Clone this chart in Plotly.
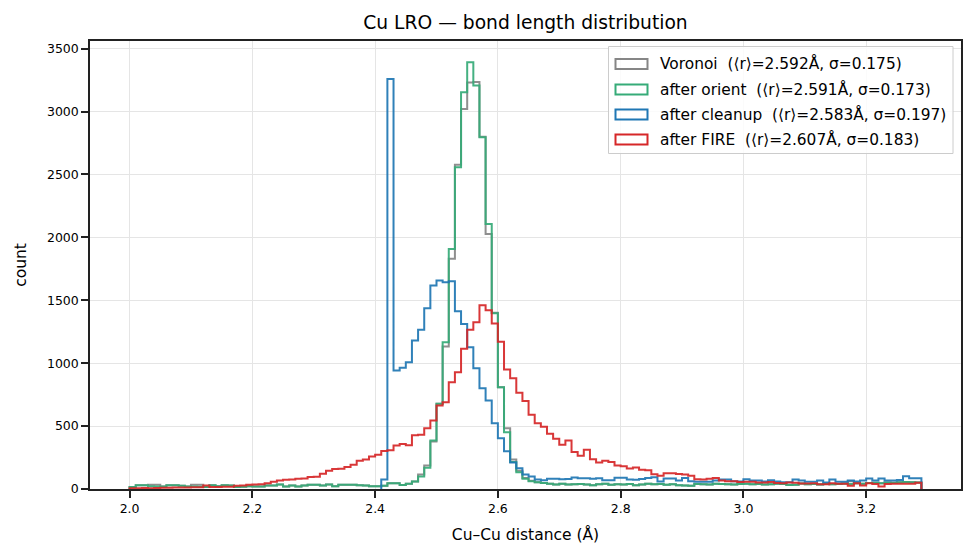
import numpy as np
import plotly.graph_objects as go

# ---------------- data (counts per 0.01 Å bin, 2.00 .. 3.29 Å) ----------------
bin_start = 2.0
bin_width = 0.01
n_bins = 129

voronoi = [15, 30, 30, 33, 33, 20, 30, 30, 25, 20,
           33, 33, 15, 30, 22, 30, 28, 15, 18, 22,
           20, 20, 28, 28, 36, 20, 28, 20, 28, 33,
           33, 28, 36, 22, 33, 33, 33, 30, 28, 22,
           22, 25, 45, 46, 32, 41, 60, 115, 187, 377,
           677, 1132, 1829, 2578, 3021, 3230, 3235, 2800, 2027, 1400,
           809, 483, 235, 146, 88, 66, 54, 47, 41, 35,
           42, 35, 38, 40, 36, 30, 38, 42, 34, 38,
           36, 40, 30, 36, 42, 38, 40, 34, 38, 30,
           28, 26, 40, 38, 36, 42, 40, 38, 36, 40,
           42, 38, 40, 36, 38, 42, 40, 32, 34, 44,
           38, 40, 36, 42, 38, 40, 44, 62, 46, 42,
           48, 50, 46, 52, 50, 54, 56, 54, 52]

orient = [15, 30, 30, 22, 20, 20, 30, 30, 25, 20,
          20, 18, 15, 30, 22, 30, 28, 15, 18, 22,
          20, 20, 28, 28, 36, 20, 28, 20, 28, 33,
          33, 28, 36, 22, 33, 33, 33, 30, 28, 22,
          22, 25, 45, 46, 32, 41, 60, 99, 168, 385,
          677, 1167, 1908, 2557, 3153, 3391, 3206, 2795, 2107, 1397,
          809, 452, 215, 133, 81, 62, 54, 47, 41, 35,
          42, 35, 38, 40, 36, 30, 38, 42, 34, 38,
          36, 40, 30, 36, 42, 38, 40, 34, 38, 30,
          28, 26, 40, 38, 36, 42, 40, 38, 36, 40,
          42, 38, 40, 36, 38, 42, 40, 32, 34, 44,
          38, 40, 36, 42, 38, 40, 44, 40, 46, 42,
          48, 50, 46, 52, 50, 54, 56, 54, 52]

cleanup = [0] * 41 + [
           75, 3259, 941, 963, 1008, 1180, 1265, 1437, 1617,
           1657, 1643, 1651, 1413, 1312, 1127, 960, 801, 703, 523,
           404, 300, 210, 165, 115, 100, 75, 70, 82, 82,
           78, 80, 92, 85, 85, 82, 86, 70, 70, 89,
           89, 75, 73, 80, 88, 94, 60, 83, 83, 68,
           88, 62, 57, 57, 57, 68, 76, 76, 62, 60,
           78, 68, 68, 60, 70, 60, 54, 54, 75, 67,
           57, 57, 67, 52, 75, 57, 57, 67, 60, 67,
           83, 67, 83, 67, 67, 72, 102, 86, 86]

fire = [5, 6, 8, 6, 8, 9, 10, 12, 12, 11,
        13, 14, 28, 16, 15, 18, 17, 26, 27, 33,
        36, 38, 46, 58, 67, 74, 76, 82, 84, 95,
        97, 122, 146, 158, 161, 175, 193, 224, 234, 258,
        272, 303, 308, 346, 358, 348, 428, 432, 482, 544,
        663, 690, 849, 928, 1114, 1265, 1326, 1460, 1420, 1315,
        1170, 950, 880, 765, 700, 590, 523, 494, 440, 400,
        351, 385, 294, 265, 312, 236, 210, 224, 214, 187,
        180, 162, 171, 152, 150, 118, 106, 126, 126, 120,
        115, 105, 78, 76, 82, 88, 68, 62, 62, 55,
        58, 57, 52, 52, 55, 48, 46, 52, 50, 44,
        44, 46, 38, 38, 46, 42, 41, 26, 46, 28,
        46, 40, 20, 40, 42, 41, 41, 42, 49]

series_names = ["Voronoi  (⟨r⟩=2.592Å, σ=0.175)",
                "after orient  (⟨r⟩=2.591Å, σ=0.173)",
                "after cleanup  (⟨r⟩=2.583Å, σ=0.197)",
                "after FIRE  (⟨r⟩=2.607Å, σ=0.183)"]
series_values = [voronoi, orient, cleanup, fire]
series_colors = ["#868686", "#36ab78", "#1f77b4", "#d62728"]

x_ticks = [2.0, 2.2, 2.4, 2.6, 2.8, 3.0, 3.2]
y_ticks = [0, 500, 1000, 1500, 2000, 2500, 3000, 3500]

# ---------------- figure ----------------
W, H = 975, 557
L, R, T, B = 90, 14, 41, 68
pw, ph = W - L - R, H - T - B

edges = np.round(bin_start + bin_width * np.arange(n_bins + 1), 4)

fig = go.Figure()
for name, vals, col in zip(series_names, series_values, series_colors):
    v = np.asarray(vals, dtype=float)
    first = int(np.argmax(v > 0))
    xs = [edges[first]] + list(edges[first:n_bins]) + [edges[n_bins], edges[n_bins]]
    ys = [0] + list(v[first:]) + [v[-1], 0]
    fig.add_trace(go.Scatter(x=xs, y=ys, mode="lines", name=name,
                             line=dict(color=col, width=2, shape="hv"),
                             opacity=0.92, showlegend=False, hoverinfo="skip"))

xr = edges[-1] - edges[0]
x_range = [edges[0] - 0.05 * xr, edges[-1] + 0.05 * xr]
y_range = [0, max(max(s) for s in series_values) * 1.05]

font_family = "DejaVu Sans, Liberation Sans, sans-serif"

fig.update_layout(
    width=W, height=H,
    margin=dict(l=L, r=R, t=T, b=B, pad=0),
    paper_bgcolor="white", plot_bgcolor="white",
    font=dict(family=font_family, color="#000000", size=13),
    title=dict(text="Cu LRO — bond length distribution", x=0.5, xref="paper",
               xanchor="center", y=1 - 22 / H, yref="container", yanchor="middle",
               font=dict(size=18.7, family=font_family)),
    showlegend=False,
)
fig.update_xaxes(range=x_range, tickvals=x_ticks, tickformat=".1f",
                 showgrid=True, gridcolor="#e5e5e5", gridwidth=1.3,
                 showline=True, linecolor="#222222", linewidth=1.5, mirror=True,
                 ticks="outside", ticklen=7, tickwidth=1.5, tickcolor="#222222",
                 tickfont=dict(size=12.5), zeroline=False,
                 title=dict(text="Cu–Cu distance (Å)", font=dict(size=15.5), standoff=14))
fig.update_yaxes(range=y_range, tickvals=y_ticks,
                 showgrid=True, gridcolor="#e5e5e5", gridwidth=1.3,
                 showline=True, linecolor="#222222", linewidth=1.5, mirror=True,
                 ticks="outside", ticklen=7, tickwidth=1.5, tickcolor="#222222",
                 tickfont=dict(size=12.5), zeroline=False,
                 title=dict(text="count", font=dict(size=15.5), standoff=17))

# ---------------- legend (drawn in paper coordinates) ----------------
def px_x(p):
    return (p - L) / pw

def px_y(p):
    return (H - B - p) / ph

fig.add_shape(type="rect", xref="paper", yref="paper",
              x0=px_x(608.5), x1=px_x(953), y0=px_y(153.5), y1=px_y(46.5),
              line=dict(color="#cccccc", width=1), fillcolor="rgba(255,255,255,0.85)",
              layer="above")
row_y = [64, 89.5, 114.5, 139.5]
for name, col, ry in zip(series_names, series_colors, row_y):
    fig.add_shape(type="rect", xref="paper", yref="paper",
                  x0=px_x(615.5), x1=px_x(647.5), y0=px_y(ry + 5), y1=px_y(ry - 5),
                  line=dict(color=col, width=2), fillcolor="rgba(0,0,0,0)", layer="above")
    fig.add_annotation(text=name, xref="paper", yref="paper",
                       x=px_x(657.5), y=px_y(ry), xanchor="left", yanchor="middle",
                       showarrow=False, font=dict(size=15.4, family=font_family, color="#000000"))

fig.write_html("out.html")
